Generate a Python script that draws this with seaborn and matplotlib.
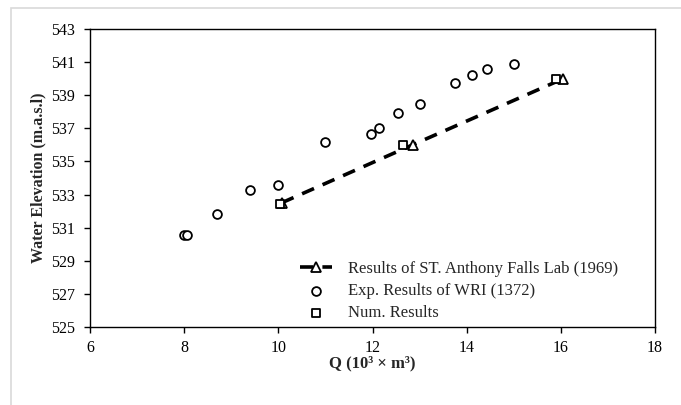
import matplotlib
matplotlib.use("Agg")
import matplotlib.pyplot as plt
from matplotlib.patches import Rectangle
import seaborn as sns
import pandas as pd

# St. Anthony Falls Lab (1969)
saf_q = [10.07, 12.85, 16.05]
saf_elev = [532.5, 536.0, 540.0]

# WRI experiments (1372)
wri_q = [8.0, 8.07, 8.7, 9.4, 10.0, 11.0, 11.97, 12.13, 12.54, 13.0, 13.75, 14.11, 14.44, 15.0]
wri_elev = [530.55, 530.55, 531.8, 533.3, 533.6, 536.2, 536.65, 537.05, 537.95, 538.45, 539.75, 540.25, 540.6, 540.9]

# Numerical model
num_q = [10.04, 12.64, 15.9]
num_elev = [532.45, 536.0, 540.0]

x_ticks = [6, 8, 10, 12, 14, 16, 18]
y_ticks = [525, 527, 529, 531, 533, 535, 537, 539, 541, 543]

sns.set_style("ticks")
plt.rcParams["font.family"] = ["Liberation Serif", "DejaVu Serif"]

fig = plt.figure(figsize=(6.81, 4.05), dpi=100)
fig.patches.append(Rectangle((11 / 681, -0.01), 1.0, 1 - 8 / 405 + 0.01,
                             transform=fig.transFigure, fill=False,
                             edgecolor="#d9d9d9", linewidth=1.2, zorder=0))
ax = fig.add_axes([90 / 681, 1 - 327 / 405, 565 / 681, 298 / 405])

saf = pd.DataFrame({"Q": saf_q, "E": saf_elev})
wri = pd.DataFrame({"Q": wri_q, "E": wri_elev})
num = pd.DataFrame({"Q": num_q, "E": num_elev})

sns.lineplot(data=saf, x="Q", y="E", ax=ax, color="black", linewidth=2.6,
             marker="^", markersize=6.5, markerfacecolor="white",
             markeredgecolor="black", markeredgewidth=1.3, linestyle="--",
             label="Results of ST. Anthony Falls Lab (1969)", zorder=3)
line = ax.lines[-1]
line.set_dashes((3.6, 2.6))

sns.scatterplot(data=wri, x="Q", y="E", ax=ax, marker="o", s=40,
                facecolor="white", edgecolor="black", linewidth=1.3,
                label="Exp. Results of WRI (1372)", zorder=4)
sns.scatterplot(data=num, x="Q", y="E", ax=ax, marker="s", s=38,
                facecolor="white", edgecolor="black", linewidth=1.3,
                label="Num. Results", zorder=4)

ax.set_xlim(6, 18)
ax.set_ylim(525, 543)
ax.set_xticks(x_ticks)
ax.set_yticks(y_ticks)
ax.tick_params(axis="both", labelsize=11.5, direction="out", length=4,
               width=1, color="black", labelcolor="black")
ax.tick_params(axis="y", pad=7)
ax.tick_params(axis="x", pad=5)
for sp in ax.spines.values():
    sp.set_visible(True)
    sp.set_color("black")
    sp.set_linewidth(1.0)

ax.set_xlabel("Q (10³ × m³)", fontsize=12, fontweight="bold", labelpad=0)
ax.set_ylabel("Water Elevation (m.a.s.l)", fontsize=11.5, fontweight="bold", labelpad=3)

leg = ax.legend(loc="lower left", bbox_to_anchor=(0.345, -0.03), frameon=False,
                fontsize=12, handlelength=1.9, labelspacing=0.35,
                handletextpad=1.0)

fig.savefig("out.png", dpi=100)
